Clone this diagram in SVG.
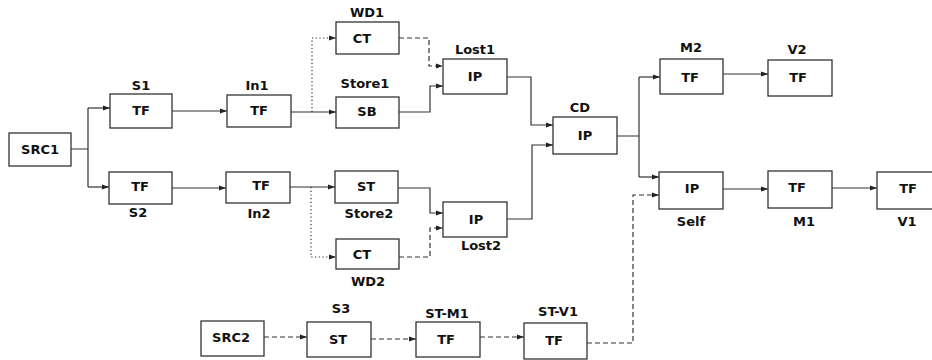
<svg xmlns="http://www.w3.org/2000/svg" width="932" height="360" viewBox="0 0 932 360">
<defs>
<marker id="ah" markerUnits="userSpaceOnUse" markerWidth="8" markerHeight="6" refX="7" refY="3" orient="auto"><path d="M0,0.5 L7,3 L0,5.5 Z" fill="#222"/></marker>
<style>
.box{fill:#fff;stroke:#333;stroke-width:1.3}
.t{font-family:"DejaVu Sans",sans-serif;font-weight:bold;font-size:13px;fill:#111;text-anchor:middle}
.c{fill:none;stroke:#333;stroke-width:1.2}
.a{marker-end:url(#ah)}
.dash{stroke-dasharray:5 3}
.dot{stroke-dasharray:1.2 2.5}
</style>
</defs>
<rect width="932" height="360" fill="#fff"/>
<g id="connectors">
<path class="c" d="M71,149 H88 M88,108 V187"/>
<path class="c a" d="M88,108 H110"/>
<path class="c a" d="M88,187 H109"/>
<path class="c a" d="M172,111 H227"/>
<path class="c a" d="M172,188 H226"/>
<path class="c a" d="M291,112 H336"/>
<path class="c a" d="M290,187 H335"/>
<path class="c dot a" d="M312,112 V38 H336"/>
<path class="c dot a" d="M311,187 V257 H336"/>
<path class="c dash a" d="M399,38 H429 V66 H443"/>
<path class="c a" d="M399,112 H430 V86 H443"/>
<path class="c a" d="M398,188 H430 V213 H443"/>
<path class="c dash a" d="M399,257 H430 V228 H443"/>
<path class="c a" d="M507,77 H531 V125 H553"/>
<path class="c a" d="M507,219 H532 V145 H553"/>
<path class="c" d="M617,136 H639 M639,77 V177"/>
<path class="c a" d="M639,77 H660"/>
<path class="c a" d="M639,177 H659"/>
<path class="c a" d="M723,74 H768"/>
<path class="c a" d="M723,189 H768"/>
<path class="c a" d="M832,188 H877"/>
<path class="c dash a" d="M264,337 H307"/>
<path class="c dash a" d="M371,339 H416"/>
<path class="c dash a" d="M480,337 H524"/>
<path class="c dash a" d="M587,343 H633 V195 H659"/>
</g>
<g id="SRC1"><rect class="box" x="9" y="133" width="62" height="33"/><text class="t" x="40" y="154">SRC1</text></g>
<g id="S1"><rect class="box" x="110" y="94" width="62" height="34"/><text class="t" x="141" y="115">TF</text><text class="t" x="141" y="90">S1</text></g>
<g id="In1"><rect class="box" x="227" y="95" width="64" height="32"/><text class="t" x="259" y="115">TF</text><text class="t" x="257" y="90">In1</text></g>
<g id="S2"><rect class="box" x="109" y="172" width="63" height="32"/><text class="t" x="140" y="191">TF</text><text class="t" x="138" y="217">S2</text></g>
<g id="In2"><rect class="box" x="226" y="172" width="64" height="31"/><text class="t" x="261" y="190">TF</text><text class="t" x="259" y="218">In2</text></g>
<g id="WD1"><rect class="box" x="336" y="22" width="63" height="32"/><text class="t" x="362" y="43">CT</text><text class="t" x="367" y="17">WD1</text></g>
<g id="Store1"><rect class="box" x="336" y="97" width="63" height="31"/><text class="t" x="367" y="116">SB</text><text class="t" x="365" y="88">Store1</text></g>
<g id="Store2"><rect class="box" x="335" y="171" width="63" height="32"/><text class="t" x="366" y="191">ST</text><text class="t" x="369" y="218">Store2</text></g>
<g id="WD2"><rect class="box" x="336" y="239" width="63" height="30"/><text class="t" x="362" y="259">CT</text><text class="t" x="368" y="286">WD2</text></g>
<g id="Lost1"><rect class="box" x="443" y="59" width="64" height="35"/><text class="t" x="475" y="81">IP</text><text class="t" x="475" y="54">Lost1</text></g>
<g id="Lost2"><rect class="box" x="443" y="202" width="64" height="35"/><text class="t" x="476" y="224">IP</text><text class="t" x="481" y="250">Lost2</text></g>
<g id="CD"><rect class="box" x="553" y="117" width="64" height="37"/><text class="t" x="585" y="140">IP</text><text class="t" x="580" y="112">CD</text></g>
<g id="M2"><rect class="box" x="660" y="59" width="63" height="35"/><text class="t" x="690" y="82">TF</text><text class="t" x="691" y="52">M2</text></g>
<g id="V2"><rect class="box" x="768" y="60" width="64" height="36"/><text class="t" x="798" y="82">TF</text><text class="t" x="797" y="54">V2</text></g>
<g id="Self"><rect class="box" x="659" y="172" width="64" height="37"/><text class="t" x="692" y="193">IP</text><text class="t" x="691" y="226">Self</text></g>
<g id="M1"><rect class="box" x="768" y="171" width="64" height="37"/><text class="t" x="797" y="192">TF</text><text class="t" x="804" y="226">M1</text></g>
<g id="V1"><rect class="box" x="877" y="172" width="64" height="37"/><text class="t" x="908" y="193">TF</text><text class="t" x="907" y="226">V1</text></g>
<g id="SRC2"><rect class="box" x="201" y="321" width="63" height="35"/><text class="t" x="231" y="342">SRC2</text></g>
<g id="S3"><rect class="box" x="307" y="322" width="64" height="35"/><text class="t" x="338" y="344">ST</text><text class="t" x="341" y="313">S3</text></g>
<g id="ST-M1"><rect class="box" x="416" y="322" width="64" height="35"/><text class="t" x="446" y="344">TF</text><text class="t" x="447" y="318">ST-M1</text></g>
<g id="ST-V1"><rect class="box" x="524" y="323" width="63" height="36"/><text class="t" x="554" y="345">TF</text><text class="t" x="558" y="316">ST-V1</text></g>
</svg>
